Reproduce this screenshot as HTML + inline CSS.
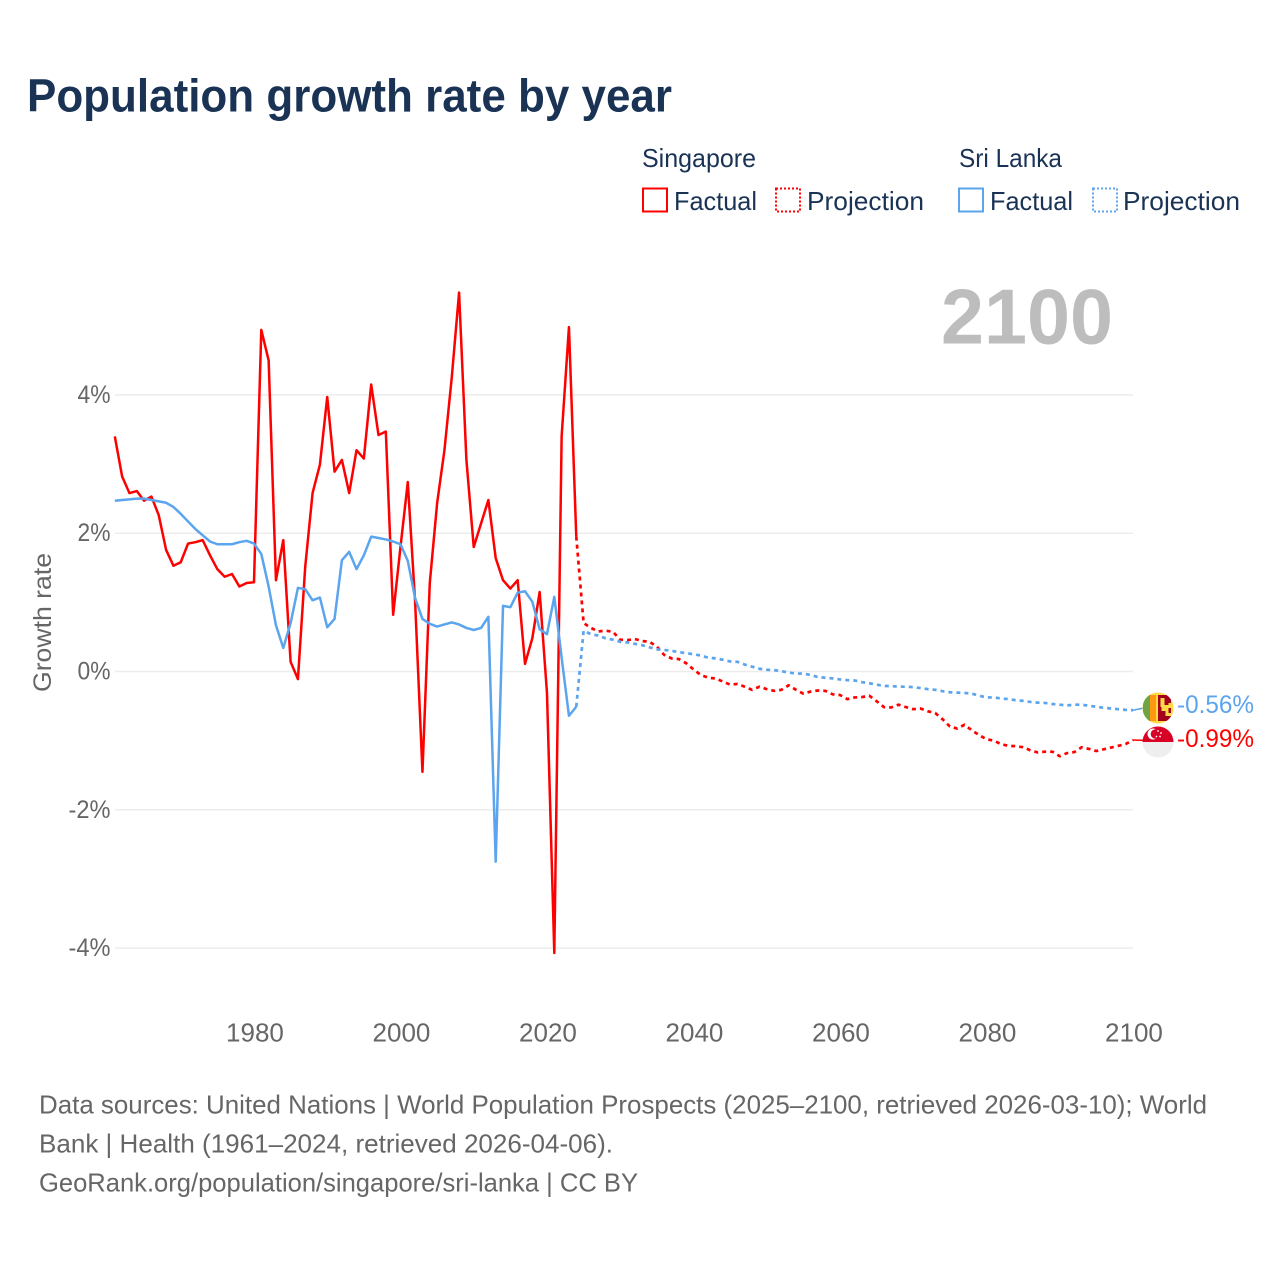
<!DOCTYPE html>
<html lang="en">
<head>
<meta charset="utf-8">
<title>Population growth rate by year</title>
<style>
  html, body { margin: 0; padding: 0; background: #fff; }
  svg { display: block; font-family: "Liberation Sans", sans-serif; }
</style>
</head>
<body>
<svg id="chart" width="1280" height="1280" viewBox="0 0 1280 1280" xmlns="http://www.w3.org/2000/svg">
  <rect x="0" y="0" width="1280" height="1280" fill="#fff"/>
  <text x="27" y="111.5" font-size="46" font-weight="700" fill="#1a3355" textLength="645" lengthAdjust="spacingAndGlyphs">Population growth rate by year</text>

  <g font-size="26" fill="#1a3355">
    <text x="642" y="167" textLength="114" lengthAdjust="spacingAndGlyphs">Singapore</text>
    <rect x="643" y="188.5" width="24" height="23" fill="none" stroke="#ff0000" stroke-width="2"/>
    <text x="674" y="210" textLength="83" lengthAdjust="spacingAndGlyphs">Factual</text>
    <rect x="776" y="188.5" width="24" height="23" fill="none" stroke="#ff0000" stroke-width="2" stroke-dasharray="2 2"/>
    <text x="807" y="210" textLength="117" lengthAdjust="spacingAndGlyphs">Projection</text>

    <text x="959" y="167" textLength="103" lengthAdjust="spacingAndGlyphs">Sri Lanka</text>
    <rect x="959" y="188.5" width="24" height="23" fill="none" stroke="#5ba4ee" stroke-width="2"/>
    <text x="990" y="210" textLength="83" lengthAdjust="spacingAndGlyphs">Factual</text>
    <rect x="1093" y="188.5" width="24" height="23" fill="none" stroke="#5ba4ee" stroke-width="2" stroke-dasharray="2 2"/>
    <text x="1123" y="210" textLength="117" lengthAdjust="spacingAndGlyphs">Projection</text>
  </g>

  <text x="941" y="343.5" font-size="78" font-weight="700" fill="#bdbdbd" textLength="172" lengthAdjust="spacingAndGlyphs">2100</text>

  <g id="grid"></g>
  <g id="yticks" font-size="25" fill="#666666" text-anchor="end"></g>
  <g id="xticks" font-size="26" fill="#666666" text-anchor="middle"></g>
  <text transform="translate(51,622.5) rotate(-90)" font-size="25" fill="#666666" text-anchor="middle" textLength="139" lengthAdjust="spacingAndGlyphs">Growth rate</text>

  <g id="series" fill="none" stroke-width="2.5" stroke-linejoin="round"></g>

  <g>
    <clipPath id="clip-lk"><circle cx="1158" cy="708" r="15.5"/></clipPath>
    <g clip-path="url(#clip-lk)">
      <rect x="1142" y="692" width="32" height="32" fill="#ffda44"/>
      <rect x="1143" y="695" width="7" height="26" fill="#6da544"/>
      <rect x="1150" y="695" width="6" height="26" fill="#ff9811"/>
      <rect x="1158" y="695" width="13" height="26" fill="#a2001d"/>
      <path d="M1160.5 698h4v7h4v-2h3v5h-3v5h3v3h-6v-5h-4v-4h-1z" fill="#ffda44"/>
    </g>
  </g>
  <g>
    <clipPath id="clip-sg"><circle cx="1158" cy="742" r="15.5"/></clipPath>
    <g clip-path="url(#clip-sg)">
      <rect x="1142" y="726" width="32" height="16" fill="#d80027"/>
      <rect x="1142" y="742" width="32" height="16" fill="#eeeeee"/>
      <circle cx="1153" cy="734" r="5.5" fill="#fff"/>
      <circle cx="1155.5" cy="734" r="4.8" fill="#d80027"/>
      <circle cx="1158" cy="731" r="0.9" fill="#fff"/>
      <circle cx="1161" cy="733" r="0.9" fill="#fff"/>
      <circle cx="1160" cy="736.5" r="0.9" fill="#fff"/>
      <circle cx="1156.5" cy="736.5" r="0.9" fill="#fff"/>
    </g>
  </g>

  <text x="1177" y="713" font-size="25" fill="#5ba4ee" textLength="77" lengthAdjust="spacingAndGlyphs">-0.56%</text>
  <text x="1177" y="747" font-size="25" fill="#ff0000" textLength="77" lengthAdjust="spacingAndGlyphs">-0.99%</text>

  <g font-size="26" fill="#666666">
    <text x="39" y="1113.5" textLength="1168" lengthAdjust="spacingAndGlyphs">Data sources: United Nations | World Population Prospects (2025–2100, retrieved 2026-03-10); World</text>
    <text x="39" y="1152.5" textLength="574" lengthAdjust="spacingAndGlyphs">Bank | Health (1961–2024, retrieved 2026-04-06).</text>
    <text x="39" y="1191.5" textLength="599" lengthAdjust="spacingAndGlyphs">GeoRank.org/population/singapore/sri-lanka | CC BY</text>
  </g>
</svg>

<script>
const yTickValues = [4, 2, 0, -2, -4];
const yTickLabels = ["4%", "2%", "0%", "-2%", "-4%"];
const xTickValues = [1980, 2000, 2020, 2040, 2060, 2080, 2100];
const xTickLabels = ["1980", "2000", "2020", "2040", "2060", "2080", "2100"];

const factualStartYear = 1961;
const singaporeFactual = [
  3.40, 2.82, 2.58, 2.61, 2.47, 2.53, 2.26, 1.76, 1.53, 1.58,
  1.85, 1.87, 1.90, 1.68, 1.48, 1.37, 1.41, 1.23, 1.28, 1.29,
  4.94, 4.50, 1.32, 1.90, 0.14, -0.11, 1.52, 2.58, 2.99, 3.97,
  2.89, 3.06, 2.58, 3.20, 3.08, 4.15, 3.42, 3.47, 0.82, 1.80,
  2.74, 1.00, -1.45, 1.28, 2.43, 3.20, 4.25, 5.48, 3.06, 1.80,
  2.14, 2.48, 1.64, 1.32, 1.20, 1.32, 0.11, 0.48, 1.15, -0.31,
  -4.07, 3.40, 4.98, 1.95
];
const sriLankaFactual = [
  2.47, 2.48, 2.49, 2.50, 2.50, 2.48, 2.46, 2.44, 2.38, 2.28,
  2.17, 2.06, 1.97, 1.88, 1.84, 1.84, 1.84, 1.87, 1.89, 1.85,
  1.70, 1.23, 0.67, 0.34, 0.70, 1.21, 1.19, 1.03, 1.07, 0.64,
  0.76, 1.61, 1.73, 1.48, 1.68, 1.95, 1.93, 1.91, 1.88, 1.84,
  1.60, 1.06, 0.76, 0.69, 0.65, 0.68, 0.71, 0.68, 0.63, 0.60,
  0.63, 0.79, -2.75, 0.95, 0.93, 1.14, 1.16, 1.01, 0.61, 0.54,
  1.08, 0.20, -0.64, -0.51
];

const projectionStartYear = 2025;
const singaporeProjection = [
  0.70, 0.63, 0.58, 0.59, 0.575, 0.46, 0.455, 0.47, 0.44, 0.43,
  0.36, 0.24, 0.19, 0.18, 0.12, 0.03, -0.05, -0.09, -0.10, -0.145,
  -0.19, -0.18, -0.22, -0.265, -0.22, -0.255, -0.28, -0.265, -0.20, -0.265,
  -0.32, -0.29, -0.275, -0.28, -0.33, -0.34, -0.40, -0.375, -0.37, -0.35,
  -0.43, -0.515, -0.52, -0.48, -0.515, -0.545, -0.535, -0.575, -0.60, -0.69,
  -0.795, -0.825, -0.77, -0.85, -0.92, -0.98, -1.00, -1.05, -1.075, -1.08,
  -1.095, -1.14, -1.17, -1.16, -1.16, -1.225, -1.18, -1.165, -1.095, -1.12,
  -1.15, -1.125, -1.10, -1.075, -1.05, -0.99
];
const sriLankaProjection = [
  0.59, 0.54, 0.52, 0.48, 0.46, 0.43, 0.42, 0.40, 0.38, 0.35,
  0.32, 0.31, 0.30, 0.28, 0.265, 0.25, 0.23, 0.20, 0.19, 0.17,
  0.145, 0.14, 0.10, 0.07, 0.04, 0.025, 0.02, 0.005, -0.015, -0.03,
  -0.03, -0.05, -0.08, -0.09, -0.10, -0.115, -0.125, -0.13, -0.154, -0.17,
  -0.19, -0.21, -0.21, -0.22, -0.22, -0.225, -0.24, -0.255, -0.265, -0.285,
  -0.30, -0.305, -0.31, -0.32, -0.35, -0.375, -0.375, -0.39, -0.40, -0.415,
  -0.425, -0.44, -0.45, -0.455, -0.47, -0.48, -0.49, -0.48, -0.48, -0.495,
  -0.51, -0.525, -0.535, -0.545, -0.555, -0.56
];

const SVG_NS = "http://www.w3.org/2000/svg";
const plotLeft = 115;
const plotRight = 1133;
const flagCenterX = 1158;

function xScale(year) {
  return 114.8 + (year - 1961) * (1134 - 255) / 120;
}
function yScale(value) {
  return 671.5 - value * 69.15;
}
function pointsFor(values, startYear) {
  return values.map(function (v, i) {
    return xScale(startYear + i).toFixed(2) + "," + yScale(v).toFixed(2);
  }).join(" ");
}

const grid = document.getElementById("grid");
const yticks = document.getElementById("yticks");
yTickValues.forEach(function (v, i) {
  const line = document.createElementNS(SVG_NS, "line");
  
  
  line.setAttribute("x1", plotLeft);
  line.setAttribute("x2", plotRight);
  line.setAttribute("y1", yScale(v));
  line.setAttribute("y2", yScale(v));
  line.setAttribute("stroke", "#ececec");
  line.setAttribute("stroke-width", "1.5");
  grid.appendChild(line);

  const label = document.createElementNS(SVG_NS, "text");
  
  
  label.setAttribute("x", 110.5);
  label.setAttribute("y", yScale(v) + 8);
  label.setAttribute("textLength", yTickLabels[i].length === 2 ? 33 : 42);
  label.setAttribute("lengthAdjust", "spacingAndGlyphs");
  label.textContent = yTickLabels[i];
  yticks.appendChild(label);
});

const xticks = document.getElementById("xticks");
xTickValues.forEach(function (year, i) {
  const label = document.createElementNS(SVG_NS, "text");
  
  
  label.setAttribute("x", xScale(year) + 1);
  label.setAttribute("y", 1041.5);
  label.textContent = xTickLabels[i];
  xticks.appendChild(label);
});

const series = document.getElementById("series");
function addLine(name, points, color, dash, width) {
  const line = document.createElementNS(SVG_NS, "polyline");
  
  
  line.setAttribute("points", points);
  line.setAttribute("stroke", color);
  if (dash) { line.setAttribute("stroke-dasharray", dash); }
  if (width) { line.setAttribute("stroke-width", width); }
  series.appendChild(line);
}

const endYear = projectionStartYear + singaporeProjection.length - 1;
const lkEnd = sriLankaProjection[sriLankaProjection.length - 1];
const sgEnd = singaporeProjection[singaporeProjection.length - 1];

addLine("singapore-projection-line",
  pointsFor([singaporeFactual[singaporeFactual.length - 1]].concat(singaporeProjection), projectionStartYear - 1),
  "#ff0000", "4 4", "2.7");
addLine("sri-lanka-projection-line",
  pointsFor([sriLankaFactual[sriLankaFactual.length - 1]].concat(sriLankaProjection), projectionStartYear - 1),
  "#5ba4ee", "4 4", "2.7");
addLine("singapore-factual-line", pointsFor(singaporeFactual, factualStartYear), "#ff0000");
addLine("sri-lanka-factual-line", pointsFor(sriLankaFactual, factualStartYear), "#5ba4ee");
addLine("sri-lanka-end-connector",
  xScale(endYear) + "," + yScale(lkEnd) + " " + flagCenterX + ",705", "#5ba4ee", null, "1.5");
addLine("singapore-end-connector",
  xScale(endYear) + "," + yScale(sgEnd) + " " + flagCenterX + ",741", "#ff0000", null, "1.5");
</script>
</body>
</html>
